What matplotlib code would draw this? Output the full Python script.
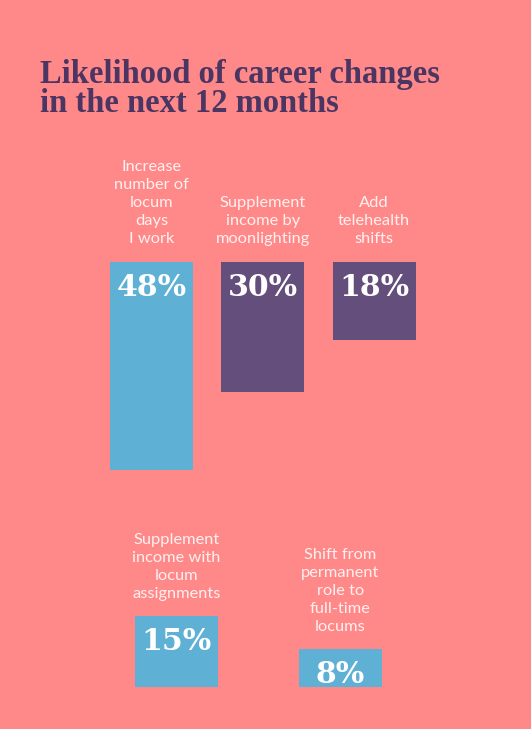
import numpy as np
import matplotlib.pyplot as plt

# --- datos ---
top_labels = ["Increase\nnumber of\nlocum\ndays\nI work",
              "Supplement\nincome by\nmoonlighting",
              "Add\ntelehealth\nshifts"]
top_values = [48, 30, 18]
top_colors = ["#5FB0D5", "#644E7B", "#644E7B"]

bottom_labels = ["Supplement\nincome with\nlocum\nassignments",
                 "Shift from\npermanent\nrole to\nfull-time\nlocums"]
bottom_values = [15, 8]
bottom_colors = ["#5FB0D5", "#5FB0D5"]

BG = "#FF8989"
TITLE_C = "#4B3563"
LABEL_C = "#FFF0F0"

W, H = 531, 729
fig = plt.figure(figsize=(W / 100, H / 100), dpi=100, facecolor=BG)


def px_axes(left, top, width, height):
    # ejes colocados en pixeles (origen arriba a la izquierda)
    return fig.add_axes([left / W, 1 - (top + height) / H, width / W, height / H])


fig.text(40 / W, 1 - 112 / H, "Likelihood of career changes\nin the next 12 months",
         family="Liberation Serif", weight="bold", fontsize=23.5, color=TITLE_C,
         ha="left", va="baseline", linespacing=0.92)

# --- fila superior: barras colgando hacia abajo ---
ax1 = px_axes(95.7, 261.5, 334, 260)
x1 = np.arange(len(top_values))
ax1.bar(x1, top_values, width=0.745, color=top_colors, align="center")
ax1.set_xlim(-0.5, 2.5)
ax1.set_ylim(60, 0)
for i, (v, lab) in enumerate(zip(top_values, top_labels)):
    ax1.annotate(lab, (i, 0), xytext=(0, 13), textcoords="offset points",
                 ha="center", va="baseline", fontsize=11.8, color=LABEL_C,
                 family="Lato", linespacing=1.37,
                 annotation_clip=False)
    ax1.annotate(f"{v}%", (i, 0), xytext=(0, -8), textcoords="offset points",
                 ha="center", va="top", fontsize=21.5, color="white",
                 family="DejaVu Serif", weight="bold")
ax1.axis("off")

# --- fila inferior: barras desde la base ---
ax2 = px_axes(94.5, 686.7 - 141, 327.6, 141)
x2 = np.arange(len(bottom_values))
ax2.bar(x2, bottom_values, width=0.507, color=bottom_colors, align="center")
ax2.set_xlim(-0.5, 1.5)
ax2.set_ylim(0, 30)
for i, (v, lab) in enumerate(zip(bottom_values, bottom_labels)):
    ax2.annotate(lab, (i, v), xytext=(0, 13), textcoords="offset points",
                 ha="center", va="baseline", fontsize=11.8, color=LABEL_C,
                 family="Lato", linespacing=1.37,
                 annotation_clip=False)
    ax2.annotate(f"{v}%", (i, v), xytext=(0, -8), textcoords="offset points",
                 ha="center", va="top", fontsize=21.5, color="white",
                 family="DejaVu Serif", weight="bold")
ax2.axis("off")

fig.savefig("out.png", dpi=100, facecolor=BG)
